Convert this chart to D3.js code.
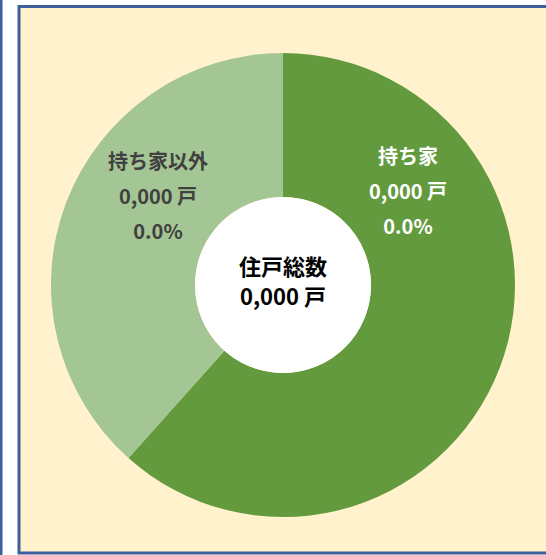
<!DOCTYPE html>
<html>
<head>
<meta charset="utf-8">
<script src="https://cdn.jsdelivr.net/npm/d3@7"></script>
<style>
  body { margin: 0; background: #ffffff; }
  svg { display: block; }
</style>
</head>
<body>
<div id="chart"></div>
<script>
// Data
var categories = ["持ち家", "持ち家以外"];
var values = [61.6, 38.4];
var countLabels = ["0,000 戸", "0,000 戸"];
var pctLabels = ["0.0%", "0.0%"];
var centerLabels = ["住戸総数", "0,000 戸"];

var colors = ["#639a3e", "#a4c594"];
var textColors = ["#ffffff", "#404040"];

var width = 546, height = 555;

var svg = d3.select("#chart").append("svg")
    .attr("width", width)
    .attr("height", height);

// left edge line
svg.append("rect")
    .attr("x", 0).attr("y", 0)
    .attr("width", 2.5).attr("height", height)
    .attr("fill", "#3d5f9b");

// panel
svg.append("rect")
    .attr("x", 19).attr("y", 6.5)
    .attr("width", 540).attr("height", 546.5)
    .attr("fill", "#fff2cd")
    .attr("stroke", "#3d5f9b")
    .attr("stroke-width", 3);

var cx = 283, cy = 285, r = 232, r0 = 88;

var g = svg.append("g")
    .attr("transform", "translate(" + cx + "," + cy + ")");

var pie = d3.pie().sort(null).value(function (d) { return d; });
var arcs = pie(values);

var arc = d3.arc().innerRadius(r0).outerRadius(r);

g.selectAll("path.slice")
    .data(arcs)
    .enter().append("path")
    .attr("class", "slice")
    .attr("d", arc)
    .attr("fill", function (d, i) { return colors[i]; });

g.append("circle").attr("r", r0).attr("fill", "#ffffff");

// slice labels
var labelPos = [[125, -128], [-125, -123]];
var font = "'Noto Sans CJK JP', 'Noto Sans', sans-serif";

arcs.forEach(function (d, i) {
    var t = g.append("text")
        .attr("text-anchor", "middle")
        .attr("font-family", font)
        .attr("font-weight", "bold")
        .attr("font-size", 20)
        .attr("fill", textColors[i]);
    var lines = [categories[i], countLabels[i], pctLabels[i]];
    lines.forEach(function (s, k) {
        t.append("tspan")
            .attr("x", labelPos[i][0])
            .attr("y", labelPos[i][1] + k * 35)
            .attr("dy", "0.35em")
            .text(s);
    });
});

// center label
var ct = g.append("text")
    .attr("text-anchor", "middle")
    .attr("font-family", font)
    .attr("font-weight", "bold")
    .attr("font-size", 22)
    .attr("fill", "#000000");
centerLabels.forEach(function (s, k) {
    ct.append("tspan")
        .attr("x", 0)
        .attr("y", -18 + k * 30)
        .attr("dy", "0.35em")
        .text(s);
});
</script>
</body>
</html>
